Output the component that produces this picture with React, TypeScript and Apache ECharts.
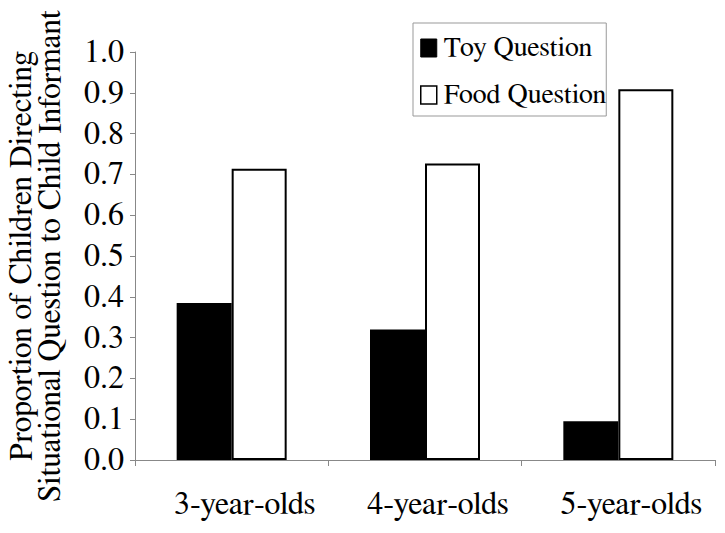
import React, { useEffect, useRef } from "react";
import * as echarts from "echarts";

const categories = ["3-year-olds", "4-year-olds", "5-year-olds"];
const toyValues = [0.385, 0.32, 0.095];
const foodValues = [0.714, 0.727, 0.909];
const seriesNames = ["Toy Question", "Food Question"];
const yTitleLines = ["Proportion of Children Directing", "Situational Question to Child Informant"];

const FONT = "FreeSerif, Liberation Serif, DejaVu Serif";

export default function App() {
  const ref = useRef<HTMLDivElement>(null);
  useEffect(() => {
    if (!ref.current) return;
    const chart = echarts.init(ref.current, undefined, { renderer: "svg" });
    chart.setOption({
      animation: false,
      backgroundColor: "#ffffff",
      textStyle: { fontFamily: FONT },
      grid: { left: 135, right: 10, top: 52, bottom: 73, containLabel: false, outerBoundsMode: "none" },
      legend: {
        orient: "vertical",
        left: 413,
        top: 23,
        padding: [10, 0, 6, 7],
        borderColor: "#999999",
        borderWidth: 1,
        itemWidth: 16,
        itemHeight: 18,
        itemGap: 17,
        icon: "rect",
        textStyle: { fontFamily: FONT, fontSize: 28, color: "#000", lineHeight: 30, padding: [0, 0, 0, 2] },
        data: [
          { name: seriesNames[0], itemStyle: { color: "#000", borderColor: "#000", borderWidth: 1 } },
          { name: seriesNames[1], itemStyle: { color: "#fff", borderColor: "#000", borderWidth: 1.5 } },
        ],
      },
      xAxis: {
        type: "category",
        data: categories,
        boundaryGap: true,
        axisLine: { lineStyle: { color: "#888888", width: 1 } },
        axisTick: { show: true, inside: false, length: 6, alignWithLabel: false, lineStyle: { color: "#888888" } },
        axisLabel: {
          fontFamily: FONT,
          fontSize: 32,
          color: "#000",
          margin: 28,
          interval: 0,
          padding: [0, 0, 0, 26],
        },
      },
      yAxis: {
        type: "value",
        min: 0,
        max: 1,
        interval: 0.1,
        name: yTitleLines.join("\n"),
        nameLocation: "middle",
        nameRotate: 90,
        nameGap: 70,
        nameTextStyle: { fontFamily: FONT, fontSize: 31.5, color: "#000", lineHeight: 29 },
        axisLine: { show: true, lineStyle: { color: "#888888", width: 1 } },
        axisTick: { show: true, inside: false, length: 5, lineStyle: { color: "#888888" } },
        splitLine: { show: false },
        axisLabel: {
          fontFamily: FONT,
          fontSize: 32,
          color: "#000",
          margin: 11,
          formatter: (v: number) => v.toFixed(1),
        },
      },
      series: [
        {
          name: seriesNames[0],
          type: "bar",
          data: toyValues,
          barWidth: 55,
          barGap: "0%",
          itemStyle: { color: "#000", borderColor: "#000", borderWidth: 0 },
        },
        {
          name: seriesNames[1],
          type: "bar",
          data: foodValues,
          barWidth: 55,
          barGap: "0%",
          itemStyle: { color: "#fff", borderColor: "#000", borderWidth: 2 },
        },
      ],
    });
    return () => chart.dispose();
  }, []);
  return <div ref={ref} style={{ width: 725, height: 533, position: "absolute", left: 0, top: 0 }} />;
}
